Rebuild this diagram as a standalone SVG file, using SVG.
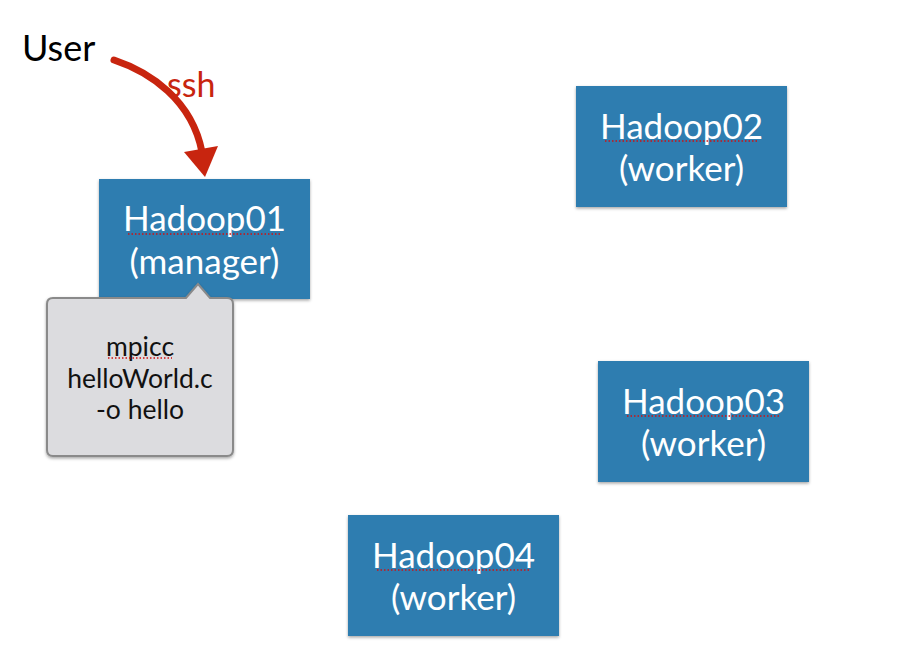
<svg xmlns="http://www.w3.org/2000/svg" width="902" height="662" viewBox="0 0 902 662">
<defs>
<filter id="sh" x="-10%" y="-10%" width="120%" height="130%"><feDropShadow dx="0" dy="1.5" stdDeviation="1.5" flood-color="#000" flood-opacity="0.35"/></filter>
<style>
.box{fill:#2f7db0;filter:url(#sh)}
.bt{font-family:Lato,"Open Sans",sans-serif;font-size:35px;fill:#ffffff;text-anchor:middle}
.sp{stroke:#d01010;stroke-width:1.5;stroke-dasharray:1.5 2;fill:none}
.ct{font-family:Lato,"Open Sans",sans-serif;font-size:26.5px;fill:#111;text-anchor:middle}
</style>
</defs>
<rect width="902" height="662" fill="#fff"/>
<text x="22" y="61" font-family="Lato,'Open Sans',sans-serif" font-size="36" fill="#000">User</text>
<g id="connectors">
<path d="M114,60 C150,72 192,100 202,152" fill="none" stroke="#c8250f" stroke-width="7" stroke-linecap="round"/>
<polygon points="184,152 218,146 205,177" fill="#c8250f"/>
<text x="167" y="97" font-family="Lato,'Open Sans',sans-serif" font-size="34" fill="#c8250f">ssh</text>
</g>
<g id="hadoop01">
<rect class="box" x="99" y="179" width="211" height="120"/>
<text class="bt" x="204.5" y="231">Hadoop01</text>
<line class="sp" x1="128" y1="234" x2="281" y2="234"/>
<text class="bt" x="204.5" y="274">(manager)</text>
</g>
<g id="callout">
<path d="M53,298 H186 L198,284 L210,298 H227 Q233,298 233,304 V450 Q233,456 227,456 H53 Q47,456 47,450 V304 Q47,298 53,298 Z" fill="#dcdcdf" stroke="#8a8a8a" stroke-width="2" filter="url(#sh)"/>
<text class="ct" x="140" y="356">mpicc</text>
<line class="sp" x1="108" y1="358" x2="172" y2="358" stroke-width="1"/>
<text class="ct" x="140" y="388">helloWorld.c</text>
<text class="ct" x="140" y="419">-o hello</text>
</g>
<g id="hadoop02">
<rect class="box" x="576" y="86" width="211" height="121"/>
<text class="bt" x="681.5" y="139">Hadoop02</text>
<line class="sp" x1="605" y1="141" x2="758" y2="141"/>
<text class="bt" x="681.5" y="181">(worker)</text>
</g>
<g id="hadoop03">
<rect class="box" x="598" y="361" width="211" height="121"/>
<text class="bt" x="703.5" y="414">Hadoop03</text>
<line class="sp" x1="627" y1="416" x2="780" y2="416"/>
<text class="bt" x="703.5" y="456">(worker)</text>
</g>
<g id="hadoop04">
<rect class="box" x="348" y="515" width="211" height="121"/>
<text class="bt" x="453.5" y="568">Hadoop04</text>
<line class="sp" x1="377" y1="570" x2="530" y2="570"/>
<text class="bt" x="453.5" y="610">(worker)</text>
</g>
</svg>
